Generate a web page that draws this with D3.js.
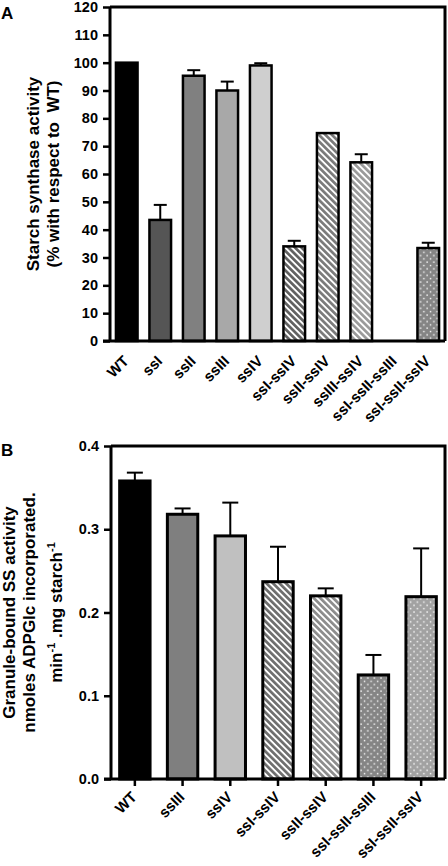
<!DOCTYPE html>
<html><head><meta charset="utf-8">
<script src="https://cdn.jsdelivr.net/npm/d3@7"></script>
<style>
html,body{margin:0;padding:0;background:#fff;}
svg{display:block;}
text{font-family:"Liberation Sans",Arial,sans-serif;font-weight:bold;fill:#000;}
</style></head>
<body>
<script>
// ---- Panel A data ----
const catsA = ["WT","ssI","ssII","ssIII","ssIV","ssI-ssIV","ssII-ssIV","ssIII-ssIV","ssI-ssII-ssIII","ssI-ssII-ssIV"];
const valsA = [100, 43.5, 95.3, 90, 99, 34, 74.7, 64.2, 0, 33.4];
const errA  = [0, 5.4, 2, 3.2, 0.8, 2, 0, 2.9, 0, 1.9];
const fillA = ["#000000","#555555","#808080","#a8a8a8","#cfcfcf","hatchDark","hatchMid","hatchLight","none","dotMid"];
const ticksA = [0,10,20,30,40,50,60,70,80,90,100,110,120];

// ---- Panel B data ----
const catsB = ["WT","ssIII","ssIV","ssI-ssIV","ssII-ssIV","ssI-ssII-ssIII","ssI-ssII-ssIV"];
const valsB = [0.358, 0.318, 0.292, 0.237, 0.220, 0.125, 0.219];
const errB  = [0.010, 0.007, 0.040, 0.042, 0.009, 0.024, 0.058];
const fillB = ["#000000","#7f7f7f","#c0c0c0","hatchDarkB","hatchMidB","dotMid","dotLight"];
const ticksB = [0.0,0.1,0.2,0.3,0.4];

const W = 448, H = 866;
const svg = d3.select("body").append("svg").attr("width", W).attr("height", H);
const defs = svg.append("defs");

function hatch(id, bg) {
  const p = defs.append("pattern").attr("id", id).attr("patternUnits","userSpaceOnUse")
    .attr("width", 4.6).attr("height", 4.6).attr("patternTransform","rotate(-45)");
  p.append("rect").attr("width",4.6).attr("height",4.6).attr("fill","#fff");
  p.append("rect").attr("width",2.7).attr("height",4.6).attr("fill",bg);
}
hatch("hatchDark", "#606060");
hatch("hatchMid", "#7a7a7a");
hatch("hatchLight", "#9a9a9a");
hatch("hatchDarkB", "#6e6e6e");
hatch("hatchMidB", "#8c8c8c");
function dots(id, bg) {
  const p = defs.append("pattern").attr("id", id).attr("patternUnits","userSpaceOnUse")
    .attr("width", 6.6).attr("height", 6.6);
  p.append("rect").attr("width",6.6).attr("height",6.6).attr("fill",bg);
  p.append("rect").attr("x",0.8).attr("y",0.8).attr("width",1.4).attr("height",1.4).attr("fill","#fff");
  p.append("rect").attr("x",4.1).attr("y",4.1).attr("width",1.4).attr("height",1.4).attr("fill","#fff");
}
dots("dotMid", "#858585");
dots("dotLight", "#a2a2a2");

function fillOf(f){ return f.startsWith("#") || f==="none" ? f : `url(#${f})`; }

function panel(cfg) {
  const g = svg.append("g");
  const x = d3.scaleBand().domain(cfg.cats).range([cfg.x0, cfg.x1]).paddingInner(cfg.pad).paddingOuter(cfg.pad/2);
  const y = d3.scaleLinear().domain(cfg.ydom).range([cfg.y0, cfg.y1]);

  // frame (top + right)
  g.append("path").attr("d", `M${cfg.x0},${cfg.y1}H${cfg.x1}V${cfg.y0}`)
    .attr("fill","none").attr("stroke","#000").attr("stroke-width",cfg.frameW);

  // bars
  const data = cfg.cats.map((c,i)=>({c, v:cfg.vals[i], e:cfg.errs[i], f:cfg.fills[i]}));
  const bw = x.bandwidth();
  g.selectAll(".bar").data(data.filter(d=>d.v>0)).join("rect")
    .attr("x", d=>x(d.c)+cfg.sw/2).attr("width", bw-cfg.sw)
    .attr("y", d=>y(d.v)).attr("height", d=>y(0)-y(d.v))
    .attr("fill", d=>fillOf(d.f)).attr("stroke","#000").attr("stroke-width",cfg.sw);

  // error bars
  const eb = data.filter(d=>d.e>0);
  g.selectAll(".ev").data(eb).join("line")
    .attr("x1", d=>x(d.c)+bw/2).attr("x2", d=>x(d.c)+bw/2)
    .attr("y1", d=>y(d.v)).attr("y2", d=>y(d.v+d.e))
    .attr("stroke","#000").attr("stroke-width",2);
  g.selectAll(".ec").data(eb).join("line")
    .attr("x1", d=>x(d.c)+bw/2-cfg.cap/2).attr("x2", d=>x(d.c)+bw/2+cfg.cap/2)
    .attr("y1", d=>y(d.v+d.e)).attr("y2", d=>y(d.v+d.e))
    .attr("stroke","#000").attr("stroke-width",2);

  // y axis
  const ya = g.append("g").attr("transform",`translate(${cfg.x0},0)`)
    .call(d3.axisLeft(y).tickValues(cfg.ticks).tickSize(7).tickPadding(5).tickFormat(cfg.fmt));
  ya.select(".domain").attr("stroke-width",cfg.axisW).attr("d", `M0,${cfg.y0}V${cfg.y1}`);
  ya.selectAll(".tick line").attr("stroke-width",2.5);
  ya.selectAll(".tick text").attr("font-size",14.5).attr("font-family","Liberation Sans, Arial, sans-serif").attr("font-weight","bold");

  // x axis
  const xa = g.append("g").attr("transform",`translate(0,${cfg.y0})`)
    .call(d3.axisBottom(x).tickSize(cfg.xtick).tickSizeOuter(0));
  xa.select(".domain").attr("stroke-width",cfg.axisW).attr("d", `M${cfg.x0-7},0H${cfg.x1}`);
  xa.selectAll(".tick line").attr("stroke-width",2.5);
  xa.selectAll(".tick text").attr("font-size",15).attr("font-family","Liberation Sans, Arial, sans-serif").attr("font-weight","bold")
    .attr("text-anchor","end").attr("dy",null).attr("y",null)
    .attr("transform",`translate(${cfg.lx},${cfg.ly}) rotate(-45)`);

  // y label
  const lab = g.append("text").attr("transform",`translate(0,${(cfg.y0+cfg.y1)/2}) rotate(-90)`)
    .attr("text-anchor","middle").attr("font-size",cfg.labSize);
  cfg.ylab(lab);

  // panel letter
  g.append("text").attr("x",1).attr("y",cfg.letterY).attr("font-size",17).text(cfg.letter);
}

panel({
  cats:catsA, vals:valsA, errs:errA, fills:fillA, ticks:ticksA,
  x0:110, x1:445, y0:341, y1:7, ydom:[0,120], pad:0.28, sw:2.5, cap:13,
  frameW:3, axisW:3, xtick:0, lx:3, ly:21, fmt:d3.format("d"), letter:"A", letterY:19, labSize:17,
  ylab: t => {
    t.append("tspan").attr("x",0).attr("y",39).text("Starch synthase activity");
    t.append("tspan").attr("x",0).attr("y",59).attr("xml:space","preserve").text("(% with respect to  WT)");
  }
});

panel({
  cats:catsB, vals:valsB, errs:errB, fills:fillB, ticks:ticksB,
  x0:111, x1:445, y0:779, y1:446, ydom:[0,0.4], pad:0.3, sw:3, cap:16,
  frameW:3, axisW:3, xtick:7, lx:3, ly:19, fmt:d3.format(".1f"), letter:"B", letterY:456, labSize:17,
  ylab: t => {
    t.append("tspan").attr("x",0).attr("y",15).text("Granule-bound SS activity");
    t.append("tspan").attr("x",0).attr("y",35).text("nmoles ADPGlc incorporated.");
    const l3 = t.append("tspan").attr("x",0).attr("y",62);
    l3.append("tspan").text("min");
    l3.append("tspan").attr("dy",-7).attr("font-size",11).text("-1");
    l3.append("tspan").attr("dy",7).text(" .mg starch");
    l3.append("tspan").attr("dy",-7).attr("font-size",11).text("-1");
  }
});
</script>
</body></html>
